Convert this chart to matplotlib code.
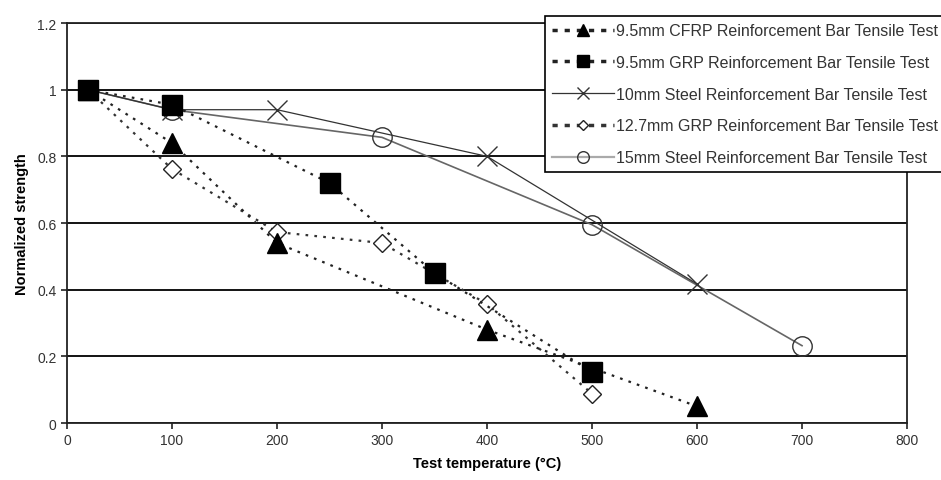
import matplotlib.pyplot as plt

plt.rcParams['font.family'] = ['Liberation Sans', 'DejaVu Sans']

# data
cfrp_x = [20, 100, 200, 400, 600]
cfrp_y = [1.0, 0.84, 0.54, 0.28, 0.05]

grp95_x = [20, 100, 250, 350, 500]
grp95_y = [1.0, 0.955, 0.72, 0.45, 0.153]

steel10_x = [20, 100, 200, 400, 600]
steel10_y = [1.0, 0.94, 0.94, 0.80, 0.417]

grp127_x = [20, 100, 200, 300, 400, 500]
grp127_y = [1.0, 0.762, 0.573, 0.54, 0.357, 0.088]

steel15_x = [20, 100, 300, 500, 700]
steel15_y = [1.0, 0.94, 0.857, 0.595, 0.232]

labels = [
    "9.5mm CFRP Reinforcement Bar Tensile Test",
    "9.5mm GRP Reinforcement Bar Tensile Test",
    "10mm Steel Reinforcement Bar Tensile Test",
    "12.7mm GRP Reinforcement Bar Tensile Test",
    "15mm Steel Reinforcement Bar Tensile Test",
]

fig = plt.figure(figsize=(9.41, 4.81), dpi=100)
ax = fig.add_axes([0.0712, 0.1185, 0.8927, 0.8315])

dots = (0, (1.2, 2.8))

h5, = ax.plot(steel15_x, steel15_y, color='#666666', lw=1.2, marker='o', ms=14,
              mfc='none', mec='#333333', mew=1.0, zorder=3)
h3, = ax.plot(steel10_x, steel10_y, color='#333333', lw=0.9, marker='x', ms=15,
              mec='#333333', mew=1.0, zorder=3)
h4, = ax.plot(grp127_x, grp127_y, color='#333333', lw=1.6, ls=dots, marker='D', ms=9,
              mfc='white', mec='#222222', mew=1.0, zorder=4)
h1, = ax.plot(cfrp_x, cfrp_y, color='#222222', lw=1.6, ls=dots, marker='^', ms=14,
              mfc='black', mec='black', zorder=5)
h2, = ax.plot(grp95_x, grp95_y, color='#222222', lw=1.6, ls=dots, marker='s', ms=14,
              mfc='black', mec='black', zorder=6)

ax.set_xlim(0, 800)
ax.set_ylim(0, 1.2)
ax.set_xticks(range(0, 801, 100))
ax.set_yticks([0, 0.2, 0.4, 0.6, 0.8, 1.0, 1.2])
ax.set_yticklabels(['0', '0.2', '0.4', '0.6', '0.8', '1', '1.2'])
ax.yaxis.grid(True, color='black', lw=1.3)
ax.set_axisbelow(True)
for s in ax.spines.values():
    s.set_linewidth(1.3)
    s.set_color('#222222')
ax.tick_params(direction='out', length=4, width=1.2, labelsize=10, colors='#222222',
               labelcolor='#333333')

ax.set_xlabel('Test temperature (°C)', fontsize=10.5, fontweight='bold', labelpad=6)
ax.set_ylabel('Normalized strength', fontsize=10.5, fontweight='bold', labelpad=6)

# legend handles: dashed look like the reference key
leg = fig.legend([h1, h2, h3, h4, h5], labels, loc='upper left',
                 bbox_to_anchor=(537 / 941, 1 - 9 / 481), fontsize=11.5,
                 frameon=True, fancybox=False, edgecolor='black', framealpha=1,
                 borderpad=0.45, labelspacing=1.05, handlelength=3.9, handletextpad=0.1,
                 markerscale=0.6)
leg.get_frame().set_linewidth(1.2)
for t in leg.get_texts():
    t.set_color('#333333')
for line in leg.get_lines():
    if line.get_linestyle() != '-':
        line.set_linestyle((0, (1.5, 2.0)))
        line.set_linewidth(2.5)
leg.get_lines()[4].set_color('#aaaaaa')
leg.get_lines()[4].set_linewidth(1.6)

fig.savefig('out.png', dpi=100)
